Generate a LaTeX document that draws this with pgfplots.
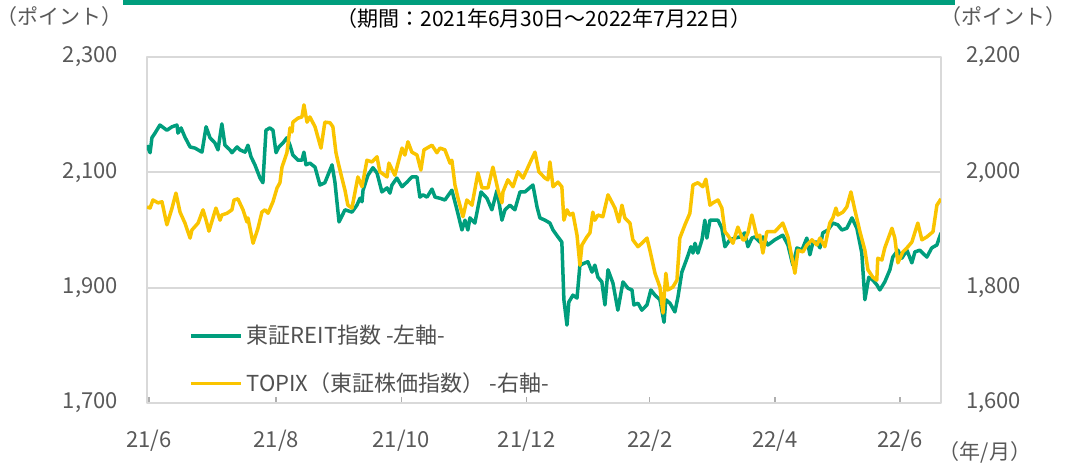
\documentclass[border=0pt]{standalone}
\usepackage{fontspec}
\setmainfont{Noto Sans CJK JP}
\usepackage{pgfplots}
\pgfplotsset{compat=1.18}
\definecolor{reit}{RGB}{0,158,125}
\definecolor{topix}{RGB}{250,196,0}
\definecolor{txtgray}{RGB}{89,89,89}
\definecolor{leggray}{RGB}{80,80,80}
\definecolor{gridgray}{RGB}{217,217,217}
\begin{document}
\begin{tikzpicture}
\path[use as bounding box] (-73.5pt,-31pt) rectangle (463pt,201.5pt);
\fill[reit] (-12pt,199pt) rectangle (404pt,201.5pt);
\node[font=\fontsize{10.5}{12}\selectfont, text=black] at (198.5pt,192pt) {（期間：2021年6月30日～2022年7月22日）};
\node[font=\fontsize{10.5}{12}\selectfont, text=txtgray] at (-43.5pt,193pt) {（ポイント）};
\node[font=\fontsize{10.5}{12}\selectfont, text=txtgray] at (428pt,193pt) {（ポイント）};
\node[font=\fontsize{10.5}{12}\selectfont, text=txtgray] at (419pt,-24.5pt) {（年/月）};
\begin{axis}[
  at={(0pt,0pt)}, anchor=south west, scale only axis,
  width=397pt, height=173pt,
  xmin=0, xmax=387, ymin=1700, ymax=2300,
  ytick={1700,1900,2100,2300},
  xtick={1,63,124,185,245,306,367},
  xticklabels={21/6,21/8,21/10,21/12,22/2,22/4,22/6},
  xtick pos=left, yticklabel pos=left,
  ytick style={draw=none},
  xtick style={gridgray!80!black, line width=0.8pt},
  major tick length=3pt, tick align=inside,
  ymajorgrids, grid style={gridgray, line width=1pt},
  axis line style={gridgray, line width=1pt},
  /pgf/number format/assume math mode=true,
  /pgf/number format/1000 sep={,},
  ticklabel style={font=\fontsize{11}{13}\selectfont, text=txtgray},
  yticklabel style={xshift=-11pt},
  xticklabel style={yshift=-10pt},
  line join=round,
]
\addplot[reit, line width=1.75pt, line join=round] coordinates {
(0,2147) (1.5,2134) (2.4,2160) (3.9,2168) (6.3,2182) (9.7,2173) (12.2,2179) (14.6,2182) (15.1,2168) (16.6,2177) (18.5,2161) (21.0,2144) (23.4,2142) (26.8,2135) (28.8,2179) (30.7,2160) (33.1,2151) (34.6,2139) (36.5,2184) (38.0,2147) (40.4,2139) (41.4,2134) (43.9,2144) (45.3,2139) (47.8,2135) (49.2,2147) (50.7,2127) (52.6,2113) (55.1,2090) (56.5,2082) (58.0,2173) (59.9,2177) (61.4,2173) (62.9,2134) (64.3,2144) (66.3,2151) (68.2,2160) (69.7,2147) (71.1,2130) (73.6,2121) (75.5,2121) (76.5,2135) (77.5,2113) (79.4,2116) (81.9,2109) (84.3,2078) (86.7,2082) (90.2,2113) (91.6,2083) (93.6,2014) (96.5,2035) (99.9,2031) (102.3,2043) (103.8,2055) (104.8,2049) (105.3,2069) (107.7,2095) (110.1,2108) (112.1,2099) (114.5,2066) (117.0,2073) (118.4,2064) (119.4,2078) (121.8,2090) (124.3,2075) (126.7,2083) (129.1,2092) (131.6,2092) (133.0,2057) (134.5,2061) (136.5,2057) (138.9,2071) (140.4,2057) (142.8,2055) (145.2,2052) (148.6,2069) (151.1,2035) (153.5,2000) (155.0,2017) (156.4,2000) (157.4,2021) (159.8,2012) (162.8,2066) (165.7,2055) (168.1,2035) (170.6,2069) (173.0,2017) (174.5,2035) (176.9,2043) (179.3,2035) (181.8,2066) (184.2,2066) (188.1,2078) (190.1,2040) (191.5,2021) (194.0,2017) (196.4,2012) (197.9,2000) (200.3,1988) (202.2,1979) (203.2,1879) (204.7,1835) (205.6,1875) (207.6,1887) (209.6,1882) (211.0,1939) (213.5,1943) (214.9,1945) (216.9,1927) (218.3,1939) (219.8,1918) (221.7,1910) (223.2,1870) (224.7,1931) (227.1,1908) (229.5,1861) (232.0,1910) (234.4,1899) (236.4,1896) (237.3,1870) (239.3,1873) (241.2,1861) (243.7,1870) (245.6,1896) (247.6,1887) (250.0,1879) (252.0,1840) (252.9,1879) (254.9,1873) (257.3,1858) (258.8,1884) (260.7,1927) (263.2,1951) (265.1,1971) (266.1,1960) (267.1,1977) (268.5,1960) (270.5,1983) (271.9,2017) (272.9,1986) (274.4,2017) (275.8,2017) (278.3,2017) (280.2,2003) (281.7,1971) (284.1,1983) (286.5,1986) (289.0,1988) (291.4,1995) (292.9,1971) (294.8,1986) (296.3,1988) (298.7,1979) (300.2,1988) (302.6,1974) (306.0,1983) (309.9,1991) (312.4,1974) (314.8,1939) (316.8,1969) (319.2,1965) (321.6,1986) (323.1,1957) (324.6,1979) (326.5,1979) (328.0,1969) (329.4,1995) (331.9,2000) (334.3,2012) (336.7,2009) (338.7,2000) (341.1,2003) (343.6,2021) (346.0,2003) (348.4,1960) (349.9,1879) (351.8,1918) (353.8,1913) (355.7,1905) (357.2,1896) (359.6,1910) (362.1,1931) (363.5,1953) (366.0,1965) (367.9,1951) (370.4,1965) (372.8,1943) (374.3,1962) (376.7,1965) (380.1,1953) (382.5,1969) (385.0,1974) (387,1995)
};
\end{axis}
\begin{axis}[
  at={(0pt,0pt)}, anchor=south west, scale only axis,
  width=397pt, height=173pt,
  xmin=0, xmax=387, ymin=1600, ymax=2200,
  ytick={1600,1800,2000,2200},
  axis x line=none, axis y line*=right,
  ytick style={draw=none},
  axis line style={gridgray, line width=1pt},
  /pgf/number format/assume math mode=true,
  /pgf/number format/1000 sep={,},
  ticklabel style={font=\fontsize{11}{13}\selectfont, text=txtgray},
  yticklabel style={xshift=9pt},
  legend cell align=left,
  legend style={draw=none, fill=none, at={(0.045,0.0)}, anchor=south west,
    font=\fontsize{11}{13}\selectfont, text=leggray, row sep=9pt,
    /tikz/every even column/.append style={column sep=2pt}},
  legend image code/.code={\draw[#1, line width=1.75pt] (0pt,0pt) -- (25pt,0pt);},
]
\addlegendimage{reit}
\addlegendentry{東証REIT指数 -左軸-}
\addplot[topix, line width=1.75pt, line join=round] coordinates {
(0,1940) (1.5,1938) (2.9,1952) (5.4,1947) (7.3,1949) (9.7,1909) (12.2,1938) (14.1,1964) (16.1,1931) (18.5,1912) (21.0,1886) (21.9,1900) (24.9,1912) (27.3,1935) (28.8,1917) (30.2,1898) (33.6,1938) (35.6,1917) (36.5,1926) (39.0,1929) (41.4,1935) (42.4,1952) (44.3,1954) (46.8,1935) (48.7,1914) (49.2,1921) (51.7,1877) (54.1,1903) (56.0,1931) (57.5,1935) (59.0,1929) (61.4,1949) (63.4,1973) (64.8,1982) (65.8,2009) (68.2,2034) (69.7,2077) (70.7,2070) (71.1,2087) (73.6,2094) (75.5,2096) (76.5,2117) (78.0,2087) (79.4,2096) (81.9,2079) (83.3,2061) (84.8,2042) (86.7,2087) (89.2,2086) (90.6,2079) (92.1,2034) (93.1,2018) (95.0,1990) (96.5,1969) (97.9,1943) (99.9,1938) (102.8,1992) (104.8,1975) (107.2,2021) (109.6,2018) (112.1,2027) (113.5,2001) (117.0,1992) (117.9,2016) (120.8,1995) (124.3,2042) (125.7,2030) (127.2,2053) (129.1,2035) (131.6,2030) (133.5,2004) (135.0,2039) (138.9,2047) (141.3,2034) (142.8,2042) (145.2,2039) (147.7,2016) (148.6,2021) (150.1,1978) (151.6,1955) (154.0,1923) (155.9,1952) (158.4,1943) (161.3,1999) (163.3,1973) (166.2,1973) (168.6,2009) (171.1,1969) (173.0,1947) (173.5,1966) (175.9,1987) (178.4,1975) (180.8,2001) (183.3,1990) (186.6,2016) (189.1,2035) (191.0,2001) (194.0,1990) (195.4,1987) (196.4,2018) (197.9,1975) (200.3,1983) (202.2,1975) (203.2,1917) (204.7,1935) (206.1,1926) (207.6,1929) (209.6,1891) (211.0,1839) (212.0,1874) (214.4,1888) (215.9,1895) (217.3,1931) (218.3,1917) (219.8,1926) (222.2,1923) (224.7,1961) (228.1,1938) (230.0,1914) (231.5,1943) (232.9,1921) (235.4,1912) (236.8,1883) (239.3,1871) (241.2,1877) (243.7,1886) (245.1,1865) (247.6,1825) (250.0,1801) (251.5,1756) (252.9,1825) (253.9,1796) (256.3,1801) (258.3,1813) (259.7,1886) (262.2,1909) (264.6,1929) (266.1,1978) (268.5,1982) (270.9,1975) (272.4,1988) (274.4,1943) (275.8,1947) (278.3,1952) (280.2,1938) (281.7,1897) (283.1,1891) (285.6,1877) (288.0,1905) (290.4,1883) (291.4,1883) (292.9,1895) (294.8,1926) (297.3,1888) (298.7,1891) (300.2,1860) (302.1,1897) (306.0,1897) (309.9,1912) (312.4,1888) (315.8,1825) (317.3,1865) (319.7,1862) (321.6,1874) (324.1,1883) (326.5,1874) (328.0,1886) (330.4,1871) (332.8,1912) (334.3,1921) (335.8,1938) (336.7,1926) (339.2,1931) (341.1,1940) (343.1,1966) (345.0,1935) (347.5,1897) (349.9,1865) (351.4,1831) (353.8,1818) (355.7,1813) (356.2,1851) (358.2,1848) (359.6,1869) (363.1,1903) (364.5,1886) (366.0,1843) (368.4,1862) (370.4,1869) (372.8,1879) (375.7,1912) (377.7,1883) (380.1,1888) (383.1,1897) (385.0,1943) (387,1954)
};
\addlegendentry{TOPIX（東証株価指数） -右軸-}
\end{axis}
\end{tikzpicture}
\end{document}
